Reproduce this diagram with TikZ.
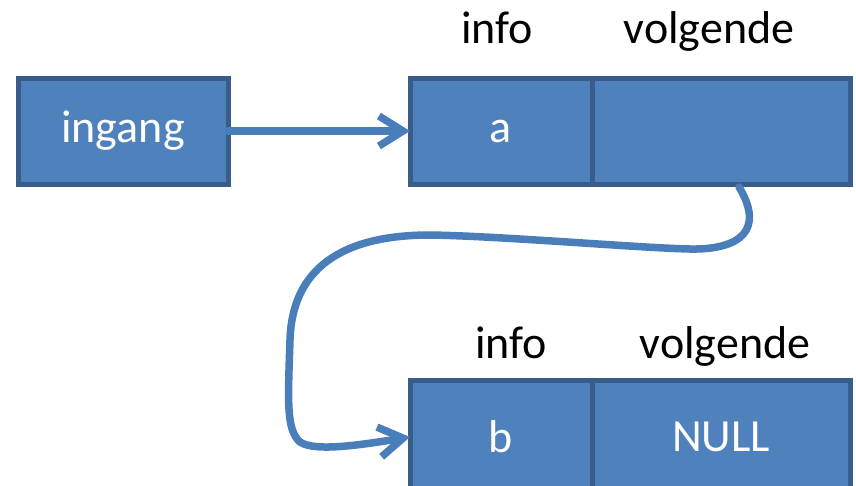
\documentclass[tikz,border=0pt]{standalone}
\usepackage{fontspec}
\setmainfont{Carlito}
\usetikzlibrary{positioning, calc, arrows.meta}
\definecolor{cellfill}{HTML}{4F81BD}
\definecolor{celldraw}{HTML}{385D8A}
\definecolor{linkblue}{HTML}{4A7EBB}

\tikzset{
  cell/.style={rectangle, draw=celldraw, fill=cellfill, line width=5pt, outer sep=0pt, inner sep=0pt,
    minimum height=106pt, text=white, font=\fontsize{46}{55}\selectfont},
  fieldname/.style={anchor=base, font=\fontsize{46}{55}\selectfont},
  link/.style={draw=linkblue, line width=7.5pt, line cap=round, -{Straight Barb[length=24pt,width=30pt]}},
}

\begin{document}
\begin{tikzpicture}[x=1pt,y=-1pt]
  \useasboundingbox (0,0) rectangle (856,485);
  % pointer naar het begin van de lijst
  \node[cell, minimum width=210pt] (ingang) at (123,131) {ingang};
  % eerste knoop
  \node[cell, minimum width=182pt] (ainfo) at (501,131) {a};
  \node[cell, minimum width=258pt, right=0pt of ainfo] (anext) {};
  \node[fieldname] (alabel) at (497,43) {info};
  \node[fieldname] (anextlabel) at (709,43) {volgende};
  % tweede knoop (loopt onderaan door)
  \node[cell, minimum width=182pt, minimum height=114pt] (binfo) at (501,437) {b};
  \node[cell, minimum width=258pt, minimum height=114pt, right=0pt of binfo] (bnext) {NULL};
  \node[fieldname] (blabel) at (511,358) {info};
  \node[fieldname] (bnextlabel) at (725,358) {volgende};

  \draw[link] (ingang) -- (ainfo);
  \draw[link] ($(anext.south)+(18,3)$) .. controls (765,230) and (740,250) .. (690,249)
    .. controls (640,248) and (500,236) .. (430,235)
    .. controls (340,235) and (292,270) .. (290,340)
    .. controls (288,400) and (286,430) .. (300,442)
    .. controls (315,452) and (360,445) .. (binfo.west);
\end{tikzpicture}
\end{document}
